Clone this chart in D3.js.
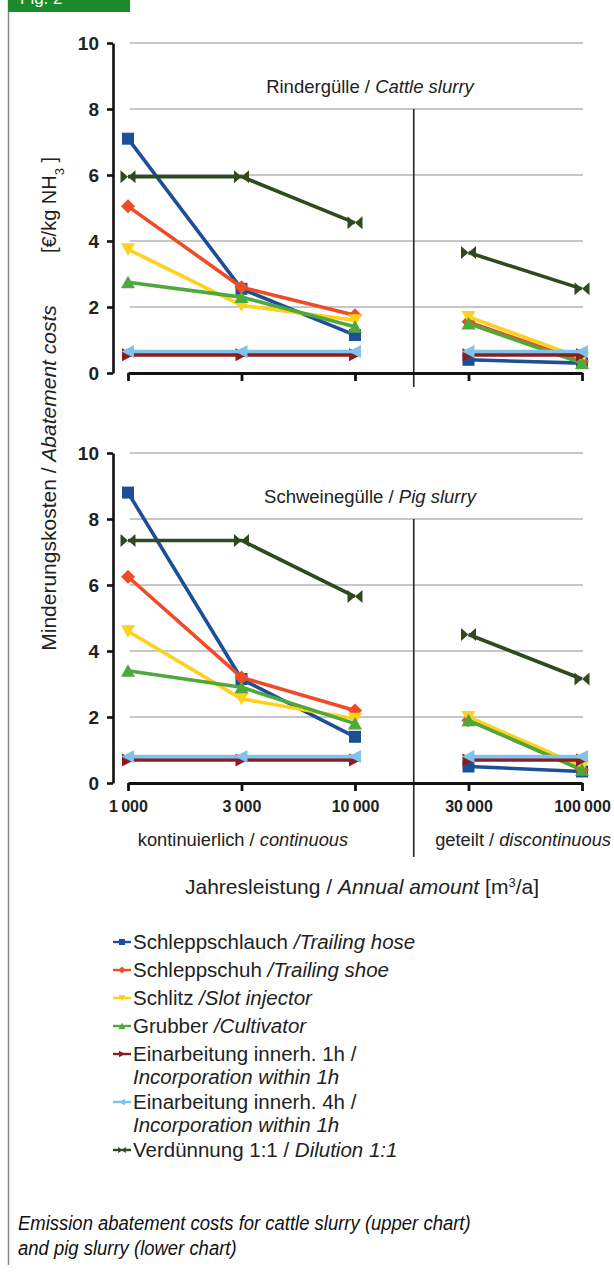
<!DOCTYPE html>
<html>
<head>
<meta charset="utf-8">
<script src="https://cdn.jsdelivr.net/npm/d3@7/dist/d3.min.js"></script>
<style>
  html, body { margin: 0; padding: 0; background: #fff; }
  svg { display: block; }
  text { font-family: "Liberation Sans", Arial, Helvetica, sans-serif; fill: #222; }
</style>
</head>
<body>
<div id="chart"></div>
<script>
// ---------- DATA ----------
const categories = ["1000", "3000", "10000", "30000", "100000"];
const tickLabels = ["1\u2009000", "3\u2009000", "10\u2009000", "30\u2009000", "100\u2009000"];
const yTicks = [0, 2, 4, 6, 8, 10];

const seriesNames = ["Schleppschlauch", "Schleppschuh", "Schlitz", "Grubber",
  "Einarbeitung 1h", "Einarbeitung 4h", "Verdünnung"];

// Rindergülle / Cattle slurry
const cattleHose       = [7.1, 2.55, 1.15, 0.4, 0.3];
const cattleShoe       = [5.05, 2.6, 1.75, 1.55, 0.35];
const cattleSlot       = [3.75, 2.05, 1.6, 1.7, 0.45];
const cattleCultivator = [2.75, 2.3, 1.4, 1.5, 0.3];
const cattleInc1h      = [0.55, 0.55, 0.55, 0.55, 0.55];
const cattleInc4h      = [0.65, 0.65, 0.65, 0.65, 0.65];
const cattleDilution   = [5.95, 5.95, 4.55, 3.65, 2.55];

// Schweinegülle / Pig slurry
const pigHose       = [8.8, 3.15, 1.4, 0.5, 0.35];
const pigShoe       = [6.25, 3.2, 2.2, 1.9, 0.4];
const pigSlot       = [4.6, 2.55, 1.95, 2.0, 0.5];
const pigCultivator = [3.4, 2.9, 1.8, 1.9, 0.4];
const pigInc1h      = [0.7, 0.7, 0.7, 0.7, 0.7];
const pigInc4h      = [0.8, 0.8, 0.8, 0.8, 0.8];
const pigDilution   = [7.35, 7.35, 5.65, 4.5, 3.15];

// segments: continuous (0..2) and discontinuous (3..4)
const segments = [[0, 1, 2], [3, 4]];

// ---------- STYLE ----------
const colors = ["#1d4f98", "#ee4b26", "#fdd11c", "#4fa83c", "#8c1c22", "#7fc2ec", "#2f4a1d"];
const markers = ["square", "diamond", "triDown", "triUp", "triRight", "triLeft", "bowtie"];

function markerPath(type, s) {
  const p = d3.path();
  switch (type) {
    case "square": p.rect(-6*s, -6*s, 12*s, 12*s); break;
    case "diamond": p.moveTo(0,-7*s); p.lineTo(7*s,0); p.lineTo(0,7*s); p.lineTo(-7*s,0); p.closePath(); break;
    case "triDown": p.moveTo(-7*s,-6*s); p.lineTo(7*s,-6*s); p.lineTo(0,6.5*s); p.closePath(); break;
    case "triUp": p.moveTo(-7*s,6*s); p.lineTo(7*s,6*s); p.lineTo(0,-6.5*s); p.closePath(); break;
    case "triRight": p.moveTo(-6*s,-6.5*s); p.lineTo(6.5*s,0); p.lineTo(-6*s,6.5*s); p.closePath(); break;
    case "triLeft": p.moveTo(6*s,-6.5*s); p.lineTo(-6.5*s,0); p.lineTo(6*s,6.5*s); p.closePath(); break;
    case "bowtie":
      p.moveTo(-7.5*s,-6.5*s); p.lineTo(0,0); p.lineTo(-7.5*s,6.5*s); p.closePath();
      p.moveTo(7.5*s,-6.5*s); p.lineTo(0,0); p.lineTo(7.5*s,6.5*s); p.closePath(); break;
  }
  return p.toString();
}

const W = 614, H = 1273;
const svg = d3.select("#chart").append("svg").attr("width", W).attr("height", H);

// frame + figure tag
svg.append("line").attr("x1", 8.5).attr("x2", 8.5).attr("y1", 0).attr("y2", 1265)
  .attr("stroke", "#8a8a8a").attr("stroke-width", 1.5);
svg.append("rect").attr("x", 8).attr("y", 0).attr("width", 122).attr("height", 12).attr("fill", "#1b8a2c");
svg.append("text").attr("x", 20).attr("y", 4).style("font-size", "17px").style("fill", "#fff").text("Fig. 2");

const x = d3.scalePoint().domain(categories).range([128, 582]);
const sepX = (x("10000") + x("30000")) / 2 + 2;

function drawPanel(top, seriesData, titleMain, titleItalic, titleY, showLabels, sepBottom) {
  const y = d3.scaleLinear().domain([0, 10]).range([top + 330, top]);
  const g = svg.append("g");

  // gridlines
  g.selectAll(".grid").data(yTicks.filter(d => d > 0)).join("line")
    .attr("x1", 130).attr("x2", 583)
    .attr("y1", d => y(d)).attr("y2", d => y(d))
    .attr("stroke", "#b4b4b4").attr("stroke-width", 1.6);

  // separator
  g.append("line").attr("x1", sepX).attr("x2", sepX).attr("y1", y(8)).attr("y2", sepBottom)
    .attr("stroke", "#222").attr("stroke-width", 1.6);

  // y axis
  const ya = g.append("g").attr("transform", "translate(113,0)")
    .call(d3.axisLeft(y).tickValues(yTicks).tickSize(6).tickSizeOuter(0).tickPadding(8));
  ya.select(".domain").attr("stroke", "#111").attr("stroke-width", 2.6);
  ya.selectAll(".tick line").attr("stroke", "#111").attr("stroke-width", 2.6);
  ya.selectAll(".tick text").style("font-size", "19px").style("font-weight", "bold")
    .style("font-family", "'Liberation Sans', Arial, sans-serif").attr("fill", "#222");

  // x axis
  const xa = g.append("g").attr("transform", `translate(0,${y(0)})`)
    .call(d3.axisBottom(x).tickSize(8).tickSizeOuter(0).tickPadding(10)
      .tickFormat((d, i) => showLabels ? tickLabels[i] : ""));
  xa.select(".domain").attr("stroke", "#111").attr("stroke-width", 2.8);
  xa.selectAll(".tick line").attr("stroke", "#111").attr("stroke-width", 2.8);
  xa.selectAll(".tick text").style("font-size", "16px").style("font-weight", "bold")
    .style("font-family", "'Liberation Sans', Arial, sans-serif").attr("fill", "#222");

  // title
  const t = g.append("text").attr("x", 370).attr("y", titleY).attr("text-anchor", "middle")
    .style("font-size", "18.5px").attr("fill", "#333");
  t.append("tspan").text(titleMain);
  t.append("tspan").style("font-style", "italic").text(titleItalic);

  // series
  const line = d3.line().x(d => x(categories[d.i])).y(d => y(d.v));
  seriesData.forEach((vals, si) => {
    const sg = g.append("g");
    segments.forEach(seg => {
      sg.append("path").datum(seg.map(i => ({ i, v: vals[i] })))
        .attr("d", line).attr("fill", "none")
        .attr("stroke", colors[si]).attr("stroke-width", 3.6).attr("stroke-linejoin", "round");
    });
    sg.selectAll(".m").data(vals).join("path")
      .attr("transform", (v, i) => `translate(${x(categories[i])},${y(v)})`)
      .attr("d", markerPath(markers[si], 1))
      .attr("fill", colors[si]);
  });
}

drawPanel(43, [cattleHose, cattleShoe, cattleSlot, cattleCultivator, cattleInc1h, cattleInc4h, cattleDilution],
  "Rindergülle / ", "Cattle slurry", 93, false, 387);
drawPanel(453, [pigHose, pigShoe, pigSlot, pigCultivator, pigInc1h, pigInc4h, pigDilution],
  "Schweinegülle / ", "Pig slurry", 503, true, 857);

// section labels
[["kontinuierlich / ", "continuous", 243, "middle"], ["geteilt / ", "discontinuous", 611, "end"]].forEach(s => {
  const t = svg.append("text").attr("x", s[2]).attr("y", 846).attr("text-anchor", s[3])
    .style("font-size", "18.3px");
  t.append("tspan").text(s[0]);
  t.append("tspan").style("font-style", "italic").text(s[1]);
});

// x title
const xt = svg.append("text").attr("x", 362).attr("y", 894).attr("text-anchor", "middle").style("font-size", "21px");
xt.append("tspan").text("Jahresleistung / ");
xt.append("tspan").style("font-style", "italic").text("Annual amount");
xt.append("tspan").text(" [m");
xt.append("tspan").attr("baseline-shift", "super").style("font-size", "13px").text("3");
xt.append("tspan").text("/a]");

// y title
const yt1 = svg.append("text").attr("transform", "translate(56,478) rotate(-90)").attr("text-anchor", "middle")
  .style("font-size", "21px");
yt1.append("tspan").text("Minderungskosten / ");
yt1.append("tspan").style("font-style", "italic").text("Abatement costs");
const yt2 = svg.append("text").attr("transform", "translate(56,205) rotate(-90)").attr("text-anchor", "middle")
  .style("font-size", "20px");
yt2.append("tspan").text("[€/kg NH");
yt2.append("tspan").attr("baseline-shift", "sub").style("font-size", "13px").text("3");
yt2.append("tspan").text(" ]");

// legend
const legendItems = [
  { lines: [["Schleppschlauch ", "/Trailing hose"]], y: 942 },
  { lines: [["Schleppschuh ", "/Trailing shoe"]], y: 970 },
  { lines: [["Schlitz ", "/Slot injector"]], y: 998 },
  { lines: [["Grubber ", "/Cultivator"]], y: 1026 },
  { lines: [["Einarbeitung innerh. 1h /", ""], ["", "Incorporation within 1h"]], y: 1054 },
  { lines: [["Einarbeitung innerh. 4h /", ""], ["", "Incorporation within 1h"]], y: 1102 },
  { lines: [["Verdünnung 1:1 / ", "Dilution 1:1"]], y: 1150 }
];
legendItems.forEach((item, si) => {
  const lg = svg.append("g").attr("transform", `translate(0,${item.y})`);
  lg.append("line").attr("x1", 113).attr("x2", 131).attr("y1", 0).attr("y2", 0)
    .attr("stroke", colors[si]).attr("stroke-width", 2.4);
  lg.append("path").attr("transform", "translate(122,0)").attr("d", markerPath(markers[si], 0.5)).attr("fill", colors[si]);
  item.lines.forEach((ln, li) => {
    const t = lg.append("text").attr("x", 133).attr("y", 7 + li * 23).style("font-size", "20.5px");
    if (ln[0]) t.append("tspan").text(ln[0]);
    if (ln[1]) t.append("tspan").style("font-style", "italic").text(ln[1]);
  });
});

// caption (condensed look)
["Emission abatement costs for cattle slurry (upper chart)", "and pig slurry (lower chart)"].forEach((c, i) => {
  svg.append("text").attr("transform", `translate(18,${1230 + i * 25}) scale(0.88,1)`)
    .style("font-style", "italic").style("font-size", "21px").style("fill", "#111").text(c);
});
</script>
</body>
</html>
